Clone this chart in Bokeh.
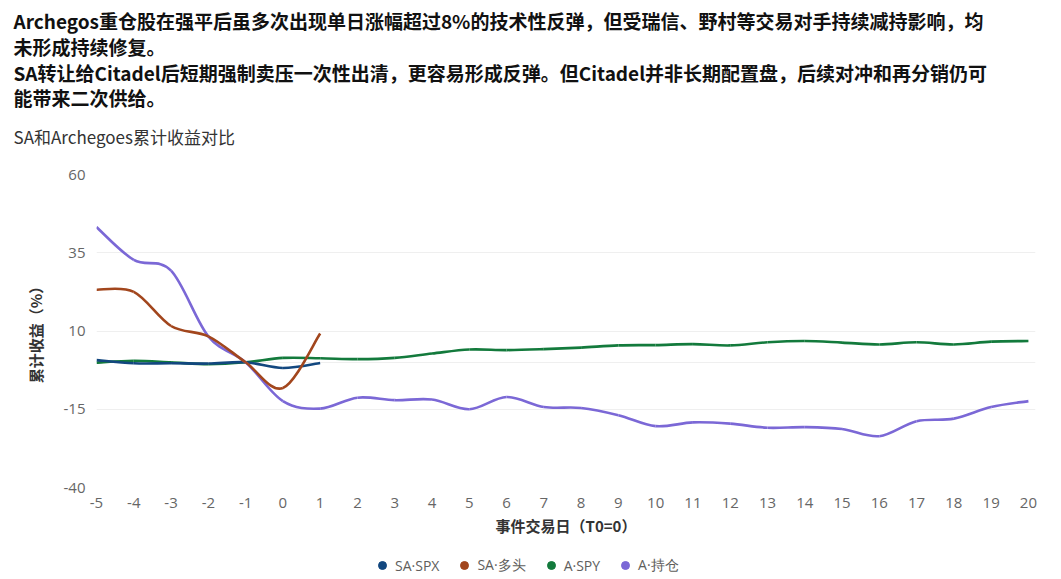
from bokeh.plotting import figure
from bokeh.layouts import column
from bokeh.models import Range1d, Legend, LegendItem, FixedTicker, Title
from bokeh.embed import file_html
from bokeh.resources import INLINE

# ---------------- data ----------------
days = list(range(-5, 21))
sa_days = list(range(-5, 2))
sa_spx = [0.7, -0.3, -0.3, -0.4, 0.0, -1.8, -0.2]
sa_long = [23.2, 22.5, 11.6, 8.3, 0.0, -8.2, 9.2]
a_spy = [-0.1, 0.5, 0.0, -0.6, 0.0, 1.4, 1.3, 1.0, 1.4, 2.8, 4.1, 3.9, 4.2,
         4.7, 5.4, 5.5, 5.8, 5.4, 6.4, 6.8, 6.3, 5.7, 6.4, 5.7, 6.6, 6.8]
a_hold = [43.2, 32.7, 29.3, 8.3, 0.0, -12.4, -14.8, -11.3, -12.1, -11.9, -15.0,
          -11.1, -14.3, -14.6, -16.9, -20.4, -19.2, -19.6, -20.9, -20.7, -21.3,
          -23.6, -18.8, -18.0, -14.3, -12.4]

series_names = ["SA·SPX", "SA·多头", "A·SPY", "A·持仓"]
colors = ["#12477f", "#a2461d", "#137a3c", "#7b68d6"]

header_lines = [
    "Archegos重仓股在强平后虽多次出现单日涨幅超过8%的技术性反弹，但受瑞信、野村等交易对手持续减持影响，均",
    "未形成持续修复。",
    "SA转让给Citadel后短期强制卖压一次性出清，更容易形成反弹。但Citadel并非长期配置盘，后续对冲和再分销仍可",
    "能带来二次供给。",
]
chart_title = "SA和Archegoes累计收益对比"
x_label = "事件交易日（T0=0）"
y_label = "累计收益（%）"
y_ticks = [-40, -15, 10, 35, 60]
grid_ticks = [-40, -15, 0, 10, 35, 60]

CJK = "Noto Sans CJK SC"
LAT = "Open Sans"

W, H = 1061, 579
LEG_H = 30
CH_H = H - LEG_H
FL, FR, FT, FB = 96, 1035, 174, 487   # frame edges on the page

p = figure(width=W, height=CH_H, output_backend="svg", toolbar_location=None,
           x_range=Range1d(-5, 20.19), y_range=Range1d(-40, 60),
           min_border_left=FL, min_border_right=W - FR, min_border_top=FT,
           min_border_bottom=CH_H - FB)
p.outline_line_color = None

# ---- titles stacked above the frame (first added = closest to frame) ----
p.title.visible = False
p.add_layout(Title(text=" ", text_font_size="1px", standoff=14), "above")
p.add_layout(Title(text=chart_title, text_font=CJK, text_font_size="17px",
                   text_font_style="normal", text_color="#333333",
                   align="left", offset=13 - FL, standoff=18), "above")
p.add_layout(Title(text="\n".join(header_lines), text_font=CJK, text_font_size="19px",
                   text_font_style="bold", text_color="#111111", text_line_height=0.96,
                   align="left", offset=13 - FL, standoff=2), "above")

# ---- axes ----
p.xaxis.ticker = FixedTicker(ticks=days)
p.yaxis.ticker = FixedTicker(ticks=y_ticks)
p.xaxis.major_label_overrides = {d: str(d) for d in days}
p.yaxis.major_label_overrides = {t: str(t) for t in y_ticks}
for ax in (p.xaxis[0], p.yaxis[0]):
    ax.axis_line_color = None
    ax.major_tick_line_color = None
    ax.minor_tick_line_color = None
    ax.major_tick_out = 0
    ax.major_tick_in = 0
    ax.minor_tick_out = 0
    ax.major_label_text_font = LAT
    ax.major_label_text_font_size = "15px"
    ax.major_label_text_color = "#666666"
    ax.axis_label_text_font = CJK
    ax.axis_label_text_font_size = "15px"
    ax.axis_label_text_font_style = "bold"
    ax.axis_label_text_color = "#333333"
p.xaxis.major_label_standoff = 10
p.xaxis.axis_label = x_label
p.xaxis.axis_label_standoff = 4
p.yaxis.major_label_standoff = 11
p.yaxis.axis_label = y_label
p.yaxis.axis_label_standoff = 15

p.xgrid.visible = False
p.ygrid.ticker = FixedTicker(ticks=grid_ticks)
p.ygrid.grid_line_color = "#efefef"
p.ygrid.grid_line_width = 1


def draw_smooth(xs, ys, color):
    n = len(xs)
    x0, y0, x1, y1, cx0, cy0, cx1, cy1 = [], [], [], [], [], [], [], []
    for i in range(n - 1):
        ip = max(i - 1, 0)
        inn = min(i + 2, n - 1)
        x0.append(xs[i]); y0.append(ys[i])
        x1.append(xs[i + 1]); y1.append(ys[i + 1])
        cx0.append(xs[i] + (xs[i + 1] - xs[ip]) / 6.0)
        cy0.append(ys[i] + (ys[i + 1] - ys[ip]) / 6.0)
        cx1.append(xs[i + 1] - (xs[inn] - xs[i]) / 6.0)
        cy1.append(ys[i + 1] - (ys[inn] - ys[i]) / 6.0)
    p.bezier(x0=x0, y0=y0, x1=x1, y1=y1, cx0=cx0, cy0=cy0, cx1=cx1, cy1=cy1,
             line_color=color, line_width=2.6)


draw_smooth(days, a_spy, colors[2])
draw_smooth(sa_days, sa_spx, colors[0])
draw_smooth(days, a_hold, colors[3])
draw_smooth(sa_days, sa_long, colors[1])

# ---- legend strip (separate figure below the chart) ----
leg = figure(width=W, height=LEG_H, output_backend="svg", toolbar_location=None,
             x_range=Range1d(0, 1), y_range=Range1d(0, 1),
             x_axis_type=None, y_axis_type=None,
             min_border_left=FL, min_border_right=W - FR,
             min_border_top=0, min_border_bottom=0)
leg.outline_line_color = None
leg.xgrid.visible = False
leg.ygrid.visible = False
nan = float("nan")
items = []
for name, c in zip(series_names, colors):
    r = leg.scatter(x=[nan], y=[nan], marker="circle", size=8,
                    fill_color=c, line_color=c)
    items.append(LegendItem(label=name, renderers=[r]))
legend = Legend(items=items, orientation="horizontal", location=(276, 4),
                label_text_font=LAT, label_text_font_size="14px",
                label_text_color="#605e5c", glyph_width=20, glyph_height=20,
                label_height=20, label_standoff=3, spacing=15, padding=0,
                margin=0, border_line_color=None, background_fill_alpha=0)
leg.add_layout(legend, "center")

layout = column(p, leg, spacing=0)
open("out.html", "w").write(file_html(layout, INLINE))
